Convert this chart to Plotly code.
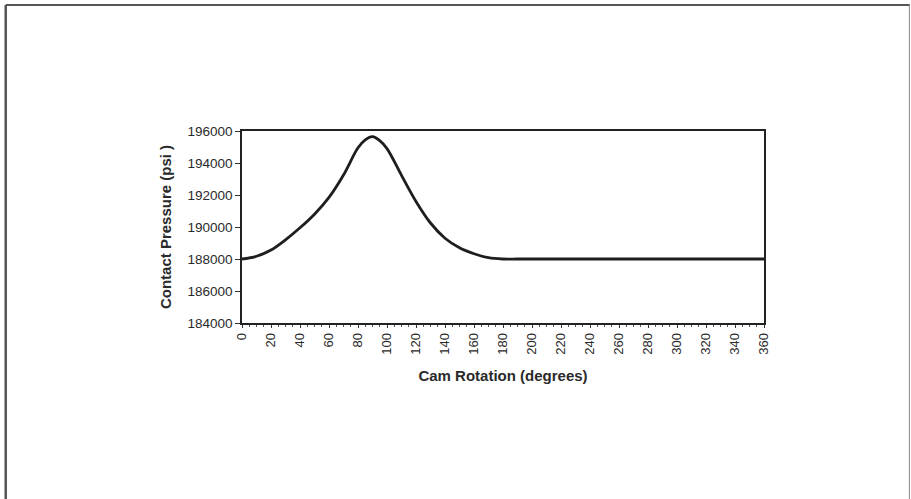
import plotly.graph_objects as go

# Cam rotation (degrees) and contact pressure (psi)
cam_rotation = [0, 10, 20, 30, 40, 50, 60, 70, 80, 85, 90, 95, 100, 110, 120, 130, 140, 150,
                160, 170, 180, 190, 200, 210, 220, 230, 240, 250, 260, 270, 280, 290,
                300, 310, 320, 330, 340, 350, 360]
contact_pressure = [188000, 188170, 188560, 189200, 189950, 190800, 191850, 193250,
                    194950, 195450, 195650, 195400, 194900, 193230, 191600, 190250,
                    189300, 188700, 188330, 188080, 188000, 188000, 188000, 188000,
                    188000, 188000, 188000, 188000, 188000, 188000, 188000, 188000,
                    188000, 188000, 188000, 188000, 188000, 188000, 188000]

x_ticks = list(range(0, 361, 20))
y_ticks = list(range(184000, 196001, 2000))

W, H = 911, 499
L, R, T, B = 241.5, 147, 131, 176
pw = W - L - R
ph = H - T - B

def px(x):
    return (x - L) / pw

def py(y):
    return (H - B - y) / ph

fig = go.Figure()
fig.add_trace(go.Scatter(
    x=cam_rotation, y=contact_pressure, mode="lines",
    line=dict(color="#1e1e1e", width=2.8, shape="spline", smoothing=1.0),
    hoverinfo="x+y", showlegend=False,
))

font_family = "Liberation Sans, Arial, sans-serif"

fig.update_layout(
    width=W, height=H,
    margin=dict(l=L, r=R, t=T, b=B),
    paper_bgcolor="white", plot_bgcolor="white",
    font=dict(family=font_family, size=13, color="#2a2a2a"),
    xaxis=dict(
        range=[0, 360], tickvals=x_ticks, ticktext=[str(v) for v in x_ticks],
        tickangle=-90, showgrid=False, zeroline=False,
        showline=True, linecolor="#222", linewidth=1.6, mirror=True,
        ticks="outside", ticklen=3, tickcolor="#333", tickwidth=1,
        minor=dict(dtick=5, ticks="outside", ticklen=2, tickcolor="#555"),
        tickfont=dict(size=13),
        title=dict(text="<b>Cam Rotation (degrees)</b>", font=dict(size=15), standoff=17),
    ),
    yaxis=dict(
        range=[184000, 196000], tickvals=y_ticks, ticktext=[str(v) for v in y_ticks],
        showgrid=False, zeroline=False,
        showline=True, linecolor="#222", linewidth=1.6, mirror=True,
        ticks="outside", ticklen=5, tickcolor="#333", tickwidth=1,
        tickfont=dict(size=13.5),
        title=dict(text="<b>Contact Pressure (psi )</b>", font=dict(size=15), standoff=12),
    ),
    shapes=[
        dict(type="line", xref="paper", yref="paper", x0=px(5), x1=px(910),
             y0=py(5), y1=py(5), line=dict(color="#555", width=2)),
        dict(type="line", xref="paper", yref="paper", x0=px(5), x1=px(5),
             y0=py(5), y1=py(505), line=dict(color="#555", width=2.5)),
        dict(type="line", xref="paper", yref="paper", x0=px(909.5), x1=px(909.5),
             y0=py(5), y1=py(505), line=dict(color="#888", width=1)),
    ],
)

fig.write_html("out.html", config={"displayModeBar": False},
               post_script="document.body.style.margin='0';document.body.style.overflow='hidden';")
